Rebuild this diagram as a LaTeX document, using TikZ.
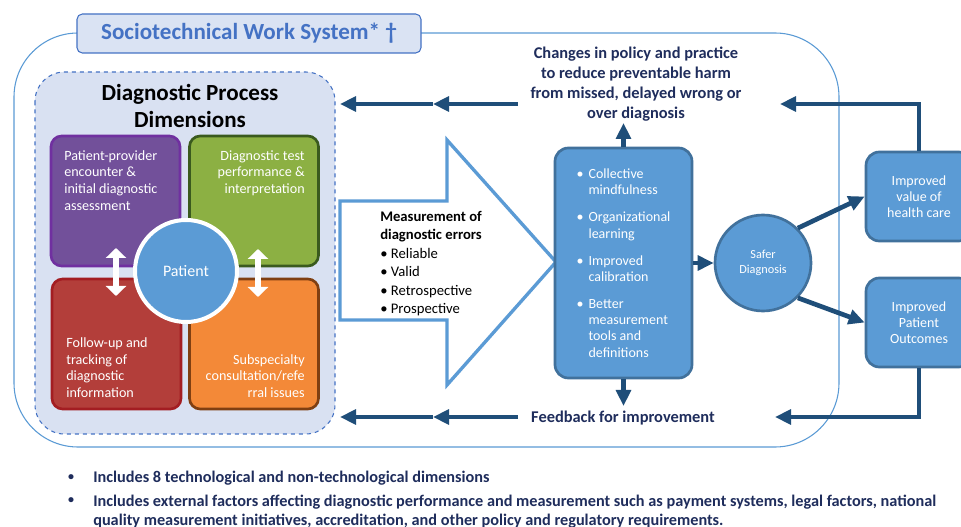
\documentclass[tikz,border=0pt]{standalone}
\usepackage{fontspec}
\setmainfont{Carlito}
\usetikzlibrary{arrows.meta}

\definecolor{lineblue}{HTML}{5B9BD5}
\definecolor{titleblue}{HTML}{4472C4}
\definecolor{titlefill}{HTML}{DAE3F3}
\definecolor{dimfill}{HTML}{D9E1F2}
\definecolor{navy}{HTML}{1F2D5C}
\definecolor{arrowblue}{HTML}{1F4E79}
\definecolor{boxblue}{HTML}{5B9BD5}
\definecolor{boxedge}{HTML}{41719C}
\definecolor{purplefill}{HTML}{72509A}
\definecolor{purpleedge}{HTML}{7030A0}
\definecolor{greenfill}{HTML}{8CB043}
\definecolor{greenedge}{HTML}{3A5A1E}
\definecolor{redfill}{HTML}{B33E3A}
\definecolor{rededge}{HTML}{A31D22}
\definecolor{orangefill}{HTML}{F38938}
\definecolor{orangeedge}{HTML}{7F3F12}

\newcommand{\bul}{\makebox[9pt][l]{•}}

\begin{document}
\begin{tikzpicture}[x=0.75pt,y=-0.75pt,
    quad/.style={line width=2pt, rounded corners=8pt, minimum width=96.75pt, minimum height=97.5pt, inner sep=0pt},
    qtext/.style={text=white, inner sep=0pt, font=\fontsize{10.6}{12.5}\selectfont},
    bluebox/.style={draw=boxedge, fill=boxblue, line width=2pt, rounded corners=10pt, text=white},
    navarrow/.style={draw=arrowblue, line width=3.5pt, -{Triangle[length=12pt,width=11pt]}},
    wharrow/.style={draw=white, line width=4.5pt, {Triangle[length=7.5pt,width=15pt]}-{Triangle[length=7.5pt,width=15pt]}},
    navytext/.style={text=navy, font=\bfseries\fontsize{12.3}{15}\selectfont},
    notetext/.style={text=navy, font=\bfseries\fontsize{12.2}{14.5}\selectfont}]
    \useasboundingbox[fill=white] (0,0) rectangle (961,527);

    % sociotechnical work system
    \draw[lineblue, line width=0.8pt, rounded corners=48pt] (14,33) rectangle (839,447);
    \node[draw=titleblue, fill=titlefill, line width=0.8pt, rounded corners=4pt,
      minimum width=258pt, minimum height=29.25pt, text=titleblue,
      font=\bfseries\fontsize{17.3}{20}\selectfont] (title) at (249,33.5) {Sociotechnical Work System* \textdagger};

    % diagnostic process dimensions
    \draw[titleblue, dashed, fill=dimfill, line width=0.8pt, rounded corners=22pt] (35,72) rectangle (335,434);
    \node[align=center, font=\bfseries\fontsize{17.3}{20}\selectfont] (dimtitle) at (190,106) {Diagnostic Process\\Dimensions};

    \node[quad, draw=purpleedge, fill=purplefill] (encounter) at (115.5,201) {};
    \node[quad, draw=greenedge, fill=greenfill] (testing) at (254,201) {};
    \node[quad, draw=rededge, fill=redfill] (followup) at (116.5,344) {};
    \node[quad, draw=orangeedge, fill=orangefill] (referral) at (254,344) {};

    \node[qtext, anchor=north west, align=left] (enctext) at (64,150) {Patient-provider\\encounter \&\\initial diagnostic\\assessment};
    \node[qtext, anchor=north east, align=right] (testtext) at (305,150) {Diagnostic test\\performance \&\\interpretation};
    \node[qtext, anchor=south west, align=left] (futext) at (66,398) {Follow-up and\\tracking of\\diagnostic\\information};
    \node[qtext, anchor=south east, align=right] (reftext) at (305,398) {Subspecialty\\consultation/refe\\rral issues};

    \coordinate (lup) at (116,248);
    \coordinate (ldown) at (116,296);
    \coordinate (rup) at (258,249);
    \coordinate (rdown) at (258,297);
    \draw[wharrow] (lup) -- (ldown);
    \draw[wharrow] (rup) -- (rdown);

    \node[circle, draw=white, line width=3pt, fill=boxblue, minimum size=76.5pt, text=white,
      font=\fontsize{12}{14}\selectfont] (patient) at (186,271) {Patient};

    % measurement arrow
    \draw[lineblue, line width=2.5pt, fill=white, line join=miter]
      (340,201) -- (447,201) -- (447,140) -- (556,262) -- (447,385) -- (447,320) -- (340,320) -- cycle;
    \node[anchor=north west, align=left, inner sep=0pt, font=\fontsize{11}{13.8}\selectfont] (measure) at (380,211)
      {\textbf{Measurement of}\\\textbf{diagnostic errors}\\• Reliable\\• Valid\\• Retrospective\\• Prospective};

    % learning box
    \node[bluebox, minimum width=102.75pt, minimum height=172.5pt, align=left,
      font=\fontsize{10.5}{12.2}\selectfont] (learning) at (623.5,263)
      {\bul Collective\\\hspace*{9pt}mindfulness\\[8pt]
       \bul Organizational\\\hspace*{9pt}learning\\[8pt]
       \bul Improved\\\hspace*{9pt}calibration\\[8pt]
       \bul Better\\\hspace*{9pt}measurement\\\hspace*{9pt}tools and\\\hspace*{9pt}definitions};

    \node[circle, draw=boxedge, fill=boxblue, line width=2pt, minimum size=72pt, text=white, align=center,
      font=\fontsize{9.2}{11.2}\selectfont] (safer) at (763,263) {Safer\\Diagnosis};

    \node[bluebox, minimum width=79.5pt, minimum height=66.75pt, align=center,
      font=\fontsize{10.5}{12}\selectfont] (value) at (919,196.5) {Improved\\value of\\health care};
    \node[bluebox, minimum width=79.5pt, minimum height=66.75pt, align=center,
      font=\fontsize{10.5}{12}\selectfont] (outcome) at (919,322.5) {Improved\\Patient\\Outcomes};

    % feedback loops
    \node[navytext, align=center] (changes) at (636,84) {Changes in policy and practice\\to reduce preventable harm\\from missed, delayed wrong or\\over diagnosis};
    \node[navytext] (feedback) at (623,418) {Feedback for improvement};

    \coordinate (chgbot) at (623.5,123);
    \coordinate (fbtop) at (623.5,406);
    \coordinate (topa) at (518,104);
    \coordinate (topm) at (433,104);
    \coordinate (topb) at (340,104);
    \coordinate (bota) at (518,417);
    \coordinate (botm) at (433,417);
    \coordinate (botb) at (340,417);
    \coordinate (topr) at (780,104);
    \coordinate (botr) at (775,417);

    \draw[navarrow] (learning.north) -- (chgbot);
    \draw[navarrow] (learning.south) -- (fbtop);
    \draw[navarrow] (learning.east) -- (safer.west);
    \draw[navarrow] (safer.45) -- (value.west);
    \draw[navarrow] (safer.-45) -- (outcome.west);
    \draw[navarrow] (value.north) |- (topr);
    \draw[navarrow] (outcome.south) |- (botr);
    \draw[navarrow] (topa) -- (topm);
    \draw[navarrow] (topm) -- (topb);
    \draw[navarrow] (bota) -- (botm);
    \draw[navarrow] (botm) -- (botb);

    % notes
    \node[text=navy, font=\bfseries\fontsize{9}{12}\selectfont] (dot1) at (71,478) {•};
    \node[text=navy, font=\bfseries\fontsize{9}{12}\selectfont] (dot2) at (71,501) {•};
    \node[notetext, anchor=west, inner sep=0pt] (note1) at (93,478)
      {Includes 8 technological and non-technological dimensions};
    \node[notetext, anchor=north west, align=left, inner sep=0pt] (note2) at (93,494.5)
      {Includes external factors affecting diagnostic performance and measurement such as payment systems, legal factors, national\\
       quality measurement initiatives, accreditation, and other policy and regulatory requirements.};
  \end{tikzpicture}
\end{document}
